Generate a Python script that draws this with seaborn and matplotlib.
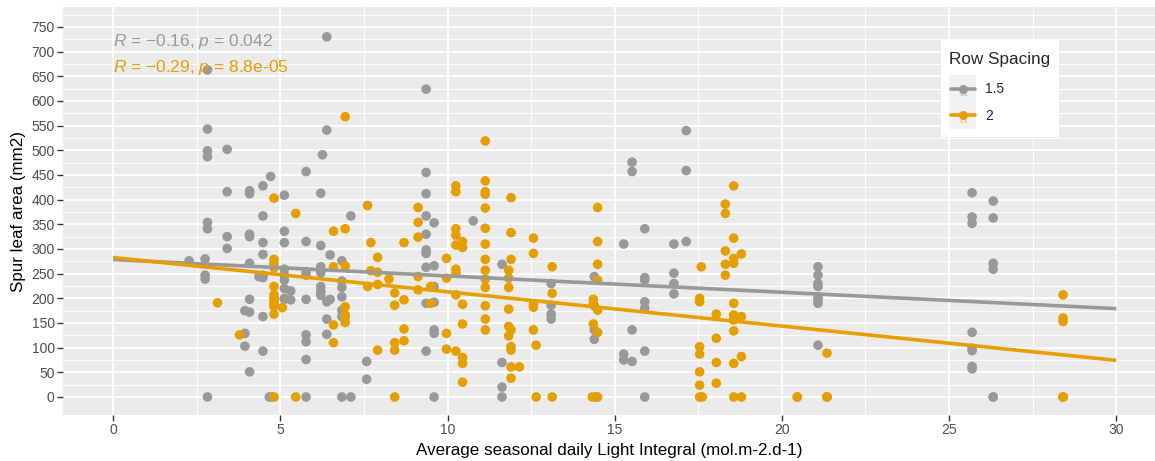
import numpy as np
import pandas as pd
import seaborn as sns
import matplotlib
matplotlib.use("Agg")
import matplotlib.pyplot as plt
from matplotlib.lines import Line2D
from matplotlib.patches import Rectangle
from matplotlib.text import Text
from matplotlib.legend_handler import HandlerBase

# Daily light integral (columns) and spur leaf areas measured at each, row spacing 1.5 m
dli_15 = [2.27, 2.75, 2.82, 3.41, 3.94, 4.08, 4.36, 4.48, 4.67, 4.71, 4.75, 5.12,
          5.31, 5.77, 6.21, 6.26, 6.39, 6.49, 6.84, 7.11, 7.58, 9.36, 9.6, 10.77,
          11.63, 13.1, 14.39, 15.27, 15.52, 15.9, 16.77, 17.14, 21.08, 25.69, 26.32]
leaf_15 = [[276], [280, 247, 239], [663, 543, 499, 487, 354, 341, 0],
           [502, 416, 325, 301], [175, 129, 103],
           [418, 412, 330, 325, 271, 198, 172, 51], [244],
           [428, 367, 313, 289, 247, 242, 163, 93], [0], [447], [0],
           [409, 336, 313, 259, 247, 237, 220, 200, 198], [215, 197],
           [457, 315, 254, 247, 198, 126, 112, 76, 0],
           [413, 307, 264, 252, 224, 214, 206], [491], [730, 541, 193, 158, 127],
           [288, 198], [276, 235, 222, 203, 176, 163, 0], [367, 0], [72, 36],
           [624, 455, 412, 367, 330, 298, 291, 263, 190, 93],
           [353, 266, 224, 192, 136, 129, 0], [357], [269, 70, 20, 0],
           [230, 186, 168, 158], [244, 185, 136, 117], [310, 87, 75],
           [476, 457, 136, 72], [341, 242, 237, 193, 180, 93, 0],
           [310, 251, 230, 209], [540, 459, 315],
           [264, 247, 230, 224, 203, 197, 190, 105],
           [414, 365, 352, 131, 99, 94, 62, 57], [397, 363, 271, 259, 0, 0]]

# Row spacing 2 m
dli_2 = [3.12, 3.78, 4.81, 5.06, 5.46, 6.59, 6.94, 7.61, 7.71, 7.91, 8.25, 8.42,
         8.70, 9.12, 9.50, 9.97, 10.25, 10.45, 11.13, 11.83, 11.9, 12.15, 12.57,
         12.65, 13.13, 14.33, 14.36, 14.43, 14.49, 17.54, 17.59, 17.62, 18.04,
         18.31, 18.56, 18.79, 20.46, 21.35, 28.41]
leaf_2 = [[191], [126], [403, 279, 270, 262, 224, 207, 202, 197, 190, 184, 168, 0],
          [181], [372, 0], [336, 264, 146, 110], [568, 341, 266, 183, 166, 161, 151],
          [388, 224], [313, 256], [283, 253, 228, 95], [239], [211, 186, 110, 95, 0],
          [313, 197, 138, 114], [384, 354, 324, 244, 217], [224, 190],
          [281, 241, 129, 97], [428, 416, 341, 328, 308, 259, 251, 207, 93],
          [315, 303, 188, 148, 80, 68, 30],
          [519, 438, 416, 411, 383, 342, 310, 279, 257, 239, 222, 185, 158, 136],
          [257, 241, 222, 178, 143, 124], [404, 333, 279, 136, 102, 95, 61, 38],
          [61], [322, 291, 188, 182, 136], [105, 0], [264, 210, 0], [0],
          [198, 190, 148], [0], [384, 315, 269, 237, 176, 131, 0],
          [200, 193, 102, 87, 51, 24, 0], [264], [0], [168, 119, 70, 28],
          [391, 372, 296, 269, 247], [428, 322, 281, 271, 190, 166, 156, 134, 68, 0],
          [290, 163, 82, 0], [0, 0], [89, 0, 0, 0], [207, 160, 153, 0, 0, 0]]

spacings = ["1.5", "2"]
colors = {"1.5": "#999999", "2": "#E69F00"}
cor_r = {"1.5": "0.16", "2": "0.29"}
cor_p = {"1.5": "0.042", "2": "8.8e-05"}


def expand(dli, leaf, label):
    rows = [(x, v, label) for x, vals in zip(dli, leaf) for v in vals]
    return pd.DataFrame(rows, columns=["dli", "leaf", "spacing"])


df = pd.concat([expand(dli_15, leaf_15, "1.5"), expand(dli_2, leaf_2, "2")],
               ignore_index=True)

sns.set_theme(style="darkgrid", rc={"axes.facecolor": "#EBEBEB",
                                    "grid.color": "white"})
plt.rcParams["font.family"] = ["Liberation Sans", "DejaVu Sans"]
plt.rcParams["mathtext.fontset"] = "custom"
plt.rcParams["mathtext.rm"] = "Liberation Sans"
plt.rcParams["mathtext.it"] = "Liberation Sans:italic"

fig = plt.figure(figsize=(11.55, 4.61), dpi=100)
ax = fig.add_axes([63 / 1155, 46 / 461, 1 - 63 / 1155, 408 / 461])

sns.scatterplot(data=df, x="dli", y="leaf", hue="spacing", palette=colors,
                hue_order=spacings, s=48, edgecolor="none", linewidth=0,
                alpha=1, legend=False, ax=ax, zorder=3)

# linear fits drawn over the full 0-30 range
ax.set_xlim(0, 30)
for sp in spacings:
    sns.regplot(data=df[df.spacing == sp], x="dli", y="leaf", scatter=False,
                ci=None, truncate=False, color=colors[sp], ax=ax,
                line_kws={"lw": 2.6, "zorder": 4, "solid_capstyle": "butt"})

for sp, yv in zip(spacings, [720, 667]):
    ax.text(0, yv, rf"$R$ = $-${cor_r[sp]}, $p$ = {cor_p[sp]}", color=colors[sp],
            fontsize=12.5, va="center", ha="left", zorder=5)

ax.set_xlim(-1.5, 31.16)
ax.set_ylim(-36.5, 790.5)
ax.set_xticks(np.arange(0, 31, 5))
ax.set_yticks(np.arange(0, 751, 50))
ax.set_xticks(np.arange(2.5, 31, 5), minor=True)
ax.set_yticks(np.arange(25, 776, 50), minor=True)
ax.grid(which="major", color="white", lw=1.3)
ax.grid(which="minor", color="white", lw=0.65)
ax.tick_params(which="major", length=4, width=1, color="#333333",
               labelcolor="#4D4D4D", labelsize=10, pad=2,
               bottom=True, left=True)
ax.tick_params(which="minor", length=0)
for s in ax.spines.values():
    s.set_visible(False)
ax.set_xlabel("Average seasonal daily Light Integral (mol.m-2.d-1)",
              fontsize=12.25, color="black", labelpad=4)
ax.set_ylabel("Spur leaf area (mm2)", fontsize=12.25, color="black", labelpad=4)


class KeyHandler(HandlerBase):
    """Legend key: grey square with line, point and a small text glyph."""

    def create_artists(self, legend, orig_handle, xdescent, ydescent, width,
                       height, fontsize, trans):
        c = orig_handle.get_color()
        cx, cy = width / 2 - xdescent, height / 2 - ydescent
        bg = Rectangle((-xdescent, -ydescent), width, height, facecolor="#F2F2F2",
                       edgecolor="none", transform=trans)
        txt = Text(cx, cy - 3, "a", color=c, alpha=0.55, fontsize=fontsize * 0.95,
                   ha="center", va="center", transform=trans)
        line = Line2D([-xdescent + 1, width - xdescent - 1], [cy, cy], color=c,
                      lw=2.6, transform=trans)
        dot = Line2D([cx], [cy], marker="o", ms=6.5, color=c, mec="none",
                     transform=trans)
        return [bg, txt, line, dot]


handles = [Line2D([], [], color=colors[sp]) for sp in spacings]
leg = ax.legend(handles, spacings, title="Row Spacing\n",
                handler_map={Line2D: KeyHandler()},
                loc="upper left", bbox_to_anchor=(941 / 1155, 1 - 40 / 461),
                bbox_transform=fig.transFigure, frameon=True, fancybox=False,
                facecolor="white", edgecolor="none", framealpha=1,
                fontsize=10, title_fontsize=12.3, handlelength=1.95,
                handleheight=2.58, labelspacing=0, handletextpad=0.6,
                borderpad=0.6, borderaxespad=0)
leg.get_title().set_linespacing(0.75)
# nudge the title a few pixels lower inside its box
leg.get_title().set_y(-4)
leg._legend_box.align = "left"
leg.set_zorder(10)

fig.savefig("out.png", dpi=100)
